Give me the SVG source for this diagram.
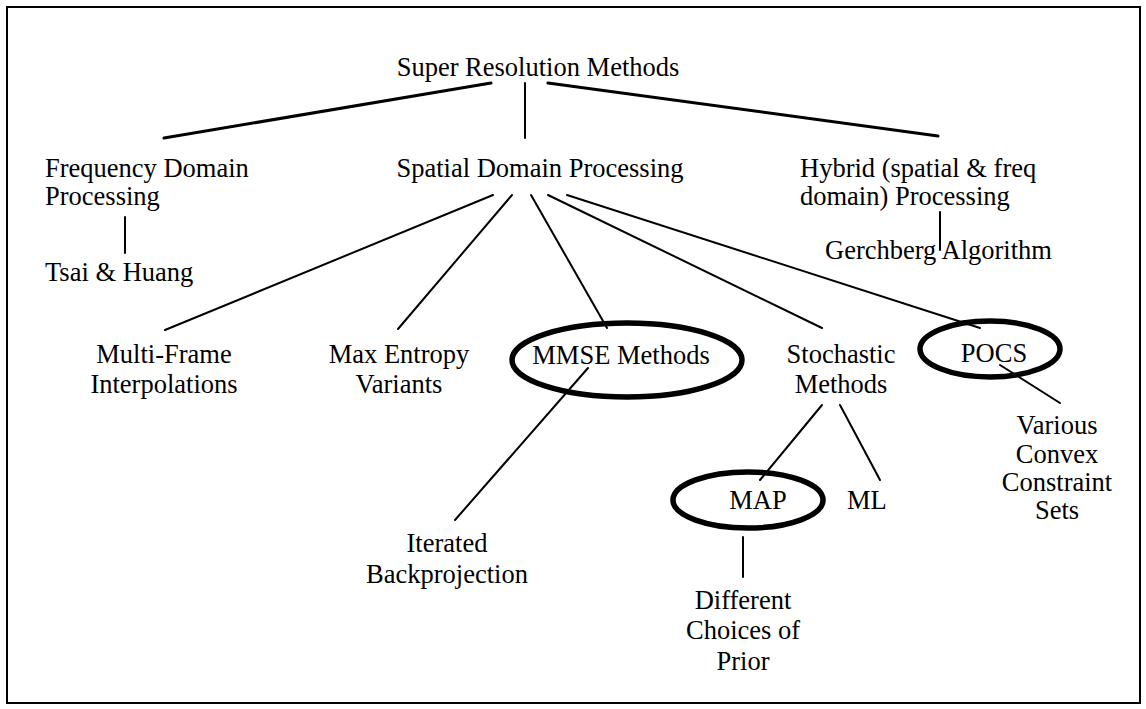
<svg xmlns="http://www.w3.org/2000/svg" width="1146" height="709" viewBox="0 0 1146 709">
<style>
text{font-family:"Liberation Serif","Times New Roman",serif;font-size:26.5px;fill:#000}
.c{text-anchor:middle}
.ln{stroke:#000;stroke-width:2;fill:none;stroke-linecap:round}
.thick{stroke:#000;stroke-width:3;fill:none;stroke-linecap:round}
.ell{stroke:#000;stroke-width:5.5;fill:none}
</style>
<rect x="0" y="0" width="1146" height="709" fill="#fff"/>
<rect x="7" y="7" width="1133" height="696" fill="none" stroke="#000" stroke-width="2"/>
<g id="connectors">
<line class="thick" x1="491" y1="83" x2="164" y2="138"/>
<line class="ln" x1="525" y1="83" x2="525" y2="138"/>
<line class="thick" x1="548" y1="83" x2="938" y2="136"/>
<line class="ln" x1="125" y1="217" x2="125" y2="253"/>
<line class="ln" x1="940" y1="212" x2="940" y2="250"/>
<line class="ln" x1="493" y1="195" x2="165" y2="330"/>
<line class="ln" x1="512" y1="195" x2="398" y2="329"/>
<line class="ln" x1="531" y1="195" x2="607" y2="328"/>
<line class="ln" x1="548" y1="195" x2="822" y2="328"/>
<line class="ln" x1="567" y1="195" x2="980" y2="328"/>
<line class="ln" x1="588" y1="368" x2="455" y2="520"/>
<line class="ln" x1="822" y1="405" x2="760" y2="480"/>
<line class="ln" x1="840" y1="405" x2="880" y2="480"/>
<line class="ln" x1="743" y1="537" x2="743" y2="577"/>
<line class="ln" x1="1000" y1="365" x2="1060" y2="403"/>
</g>
<g id="n-root"><text class="c" x="538" y="76">Super Resolution Methods</text></g>
<g id="n-freq"><text x="45" y="177">Frequency Domain</text><text x="45" y="205">Processing</text></g>
<g id="n-spatial"><text class="c" x="540" y="177">Spatial Domain Processing</text></g>
<g id="n-hybrid"><text x="800" y="177">Hybrid (spatial &amp; freq</text><text x="800" y="205">domain) Processing</text></g>
<g id="n-tsai"><text x="45" y="281">Tsai &amp; Huang</text></g>
<g id="n-gerch"><text x="825" y="259">Gerchberg Algorithm</text></g>
<g id="n-multi"><text class="c" x="164" y="363">Multi-Frame</text><text class="c" x="164" y="393">Interpolations</text></g>
<g id="n-maxent"><text class="c" x="399" y="363">Max Entropy</text><text class="c" x="399" y="393">Variants</text></g>
<g id="n-mmse"><ellipse class="ell" cx="627" cy="360" rx="115" ry="37"/><text class="c" x="621" y="364">MMSE Methods</text></g>
<g id="n-stoch"><text class="c" x="841" y="363">Stochastic</text><text class="c" x="841" y="393">Methods</text></g>
<g id="n-pocs"><ellipse class="ell" cx="990" cy="349" rx="70" ry="28"/><text class="c" x="994" y="362">POCS</text></g>
<g id="n-iter"><text class="c" x="447" y="552">Iterated</text><text class="c" x="447" y="583">Backprojection</text></g>
<g id="n-map"><ellipse class="ell" cx="748" cy="500" rx="75" ry="28"/><text class="c" x="758" y="509">MAP</text></g>
<g id="n-ml"><text x="847" y="509">ML</text></g>
<g id="n-prior"><text class="c" x="743" y="609">Different</text><text class="c" x="743" y="639">Choices of</text><text class="c" x="743" y="670">Prior</text></g>
<g id="n-convex"><text class="c" x="1057" y="434">Various</text><text class="c" x="1057" y="463">Convex</text><text class="c" x="1057" y="491">Constraint</text><text class="c" x="1057" y="519">Sets</text></g>
</svg>
